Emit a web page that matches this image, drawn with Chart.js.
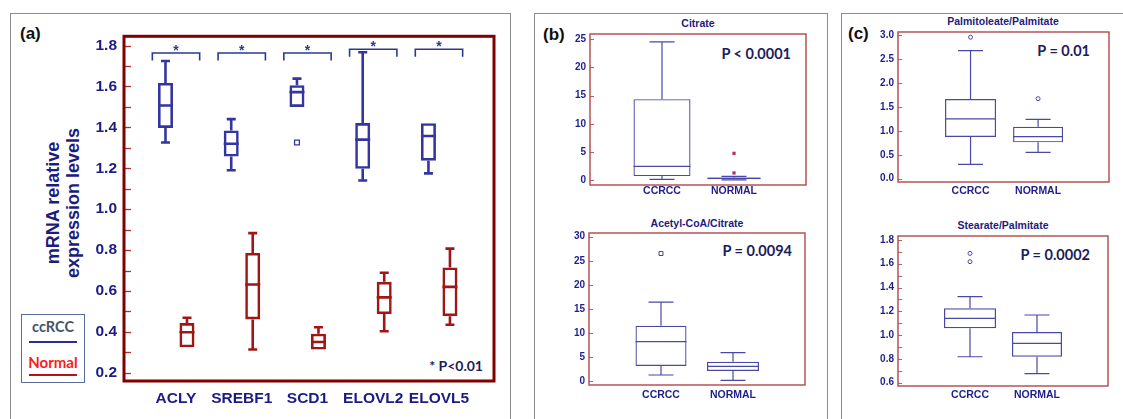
<!DOCTYPE html>
<html><head><meta charset="utf-8">
<script src="https://cdn.jsdelivr.net/npm/chart.js@4.4.0/dist/chart.umd.min.js"></script>
<style>
html,body{margin:0;padding:0;background:#fff;width:1123px;height:419px;overflow:hidden;position:relative;font-family:"Liberation Sans",Arial,sans-serif;}
.panel{position:absolute;border:1.5px solid #8c8c8c;box-sizing:border-box;}
canvas{position:absolute;}
.t{position:absolute;font-weight:bold;white-space:nowrap;line-height:1;}
.tag{font-size:17px;color:#111;}
.ttl{font-size:10.5px;color:#1c1c80;transform:translate(-50%,-50%);}
.pv{font-family:Lato,"Open Sans",sans-serif;font-size:14.5px;color:#1c1c5c;transform:translate(-100%,-50%);}
</style></head><body>
<div class="panel" style="left:10px;top:13px;width:501px;height:440px"></div>
<div class="panel" style="left:534px;top:13px;width:294px;height:440px"></div>
<div class="panel" style="left:841px;top:13px;width:300px;height:440px"></div>

<div class="t tag" style="left:20px;top:25px">(a)</div>
<div class="t tag" style="left:543px;top:26px">(b)</div>
<div class="t tag" style="left:848px;top:25px">(c)</div>

<div class="t" style="left:-36px;top:183px;width:200px;height:40px;transform:rotate(-90deg);text-align:center;font-size:18px;line-height:19.5px;color:#1c1c80">mRNA relative<br>expression levels</div>

<div style="position:absolute;left:21px;top:314px;width:64px;height:69px;border:1px solid #5a6a9a;box-sizing:border-box"></div>
<div class="t" style="left:53px;top:327px;transform:translate(-50%,-50%);font-family:Lato,sans-serif;font-size:14.5px;color:#44546a">ccRCC</div>
<div style="position:absolute;left:29px;top:341px;width:48px;height:2px;background:#2d2d9a"></div>
<div class="t" style="left:53px;top:362px;transform:translate(-50%,-50%);font-family:Lato,sans-serif;font-size:15px;color:#ff1a1a">Normal</div>
<div style="position:absolute;left:29px;top:374px;width:48px;height:2px;background:#b01515"></div>
<div class="t pv" style="left:483px;top:366px;font-size:14px">* P&lt;0.01</div>

<div class="t ttl" style="left:698px;top:23px">Citrate</div>
<div class="t ttl" style="left:697px;top:223px">Acetyl-CoA/Citrate</div>
<div class="t ttl" style="left:1003px;top:21px">Palmitoleate/Palmitate</div>
<div class="t ttl" style="left:1003px;top:225px">Stearate/Palmitate</div>
<div class="t pv" style="left:791px;top:54px">P &lt; 0.0001</div>
<div class="t pv" style="left:792px;top:251px">P = 0.0094</div>
<div class="t pv" style="left:1090px;top:51px">P = 0.01</div>
<div class="t pv" style="left:1090px;top:255px">P = 0.0002</div>

<canvas id="cA" width="450" height="399" style="left:60px;top:20px"></canvas>
<canvas id="cB1" width="270" height="180" style="left:550px;top:24px"></canvas>
<canvas id="cB2" width="270" height="197" style="left:549px;top:222px"></canvas>
<canvas id="cC1" width="268" height="180" style="left:855px;top:20px"></canvas>
<canvas id="cC2" width="268" height="197" style="left:855px;top:222px"></canvas>

<script>
// ---------- (a) mRNA expression ----------
const geneNames = ['ACLY', 'SREBF1', 'SCD1', 'ELOVL2', 'ELOVL5'];
const ccrccWhiskerLow  = [1.326, 1.190, 1.500, 1.140, 1.175];
const ccrccQ1          = [1.397, 1.257, 1.500, 1.197, 1.237];
const ccrccMedian      = [1.507, 1.320, 1.572, 1.340, 1.358];
const ccrccQ3          = [1.617, 1.385, 1.606, 1.421, 1.420];
const ccrccWhiskerHigh = [1.724, 1.440, 1.638, 1.767, 1.420];
const ccrccOutliers    = [[], [], [1.326], [], []];
const normalWhiskerLow  = [0.325, 0.314, 0.314, 0.403, 0.435];
const normalQ1          = [0.325, 0.461, 0.314, 0.487, 0.477];
const normalMedian      = [0.398, 0.632, 0.351, 0.569, 0.620];
const normalQ3          = [0.443, 0.786, 0.391, 0.645, 0.715];
const normalWhiskerHigh = [0.469, 0.883, 0.423, 0.689, 0.807];
const normalOutliers    = [[], [], [], [], []];
const significanceLevel = [1.763, 1.763, 1.763, 1.782, 1.782];
const geneTickValues = [0.2, 0.4, 0.6, 0.8, 1.0, 1.2, 1.4, 1.6, 1.8];
const geneTickLabels = ['0.2', '0.4', '0.6', '0.8', '1.0', '1.2', '1.4', '1.6', '1.8'];
const geneMinorTicks = [0.3, 0.5, 0.7, 0.9, 1.1, 1.3, 1.5, 1.7];

// ---------- (b), (c) metabolite ratios ----------
const groupNames = ['CCRCC', 'NORMAL'];
const citrateLow = [0.18, 0.08], citrateQ1 = [0.74, 0.20], citrateMedian = [2.48, 0.35], citrateQ3 = [14.36, 0.50], citrateHigh = [24.5, 0.70];
const citrateOutliers = [[], [4.77, 1.30]];
const citrateTickValues = [0, 5, 10, 15, 20, 25];
const citrateTickLabels = ['0', '5', '10', '15', '20', '25'];

const acetylLow = [1.25, 0.14], acetylQ1 = [3.12, 2.08], acetylMedian = [8.17, 3.05], acetylQ3 = [11.5, 4.0], acetylHigh = [16.4, 5.9];
const acetylOutliers = [[26.5], []];
const acetylTickValues = [0, 5, 10, 15, 20, 25, 30];
const acetylTickLabels = ['0', '5', '10', '15', '20', '25', '30'];

const palmLow = [0.30, 0.55], palmQ1 = [0.872, 0.76], palmMedian = [1.25, 0.879], palmQ3 = [1.667, 1.088], palmHigh = [2.68, 1.24];
const palmOutliers = [[2.96], [1.674]];
const palmTickValues = [0, 0.5, 1.0, 1.5, 2.0, 2.5, 3.0];
const palmTickLabels = ['0.0', '0.5', '1.0', '1.5', '2.0', '2.5', '3.0'];

const stearLow = [0.818, 0.676], stearQ1 = [1.057, 0.818], stearMedian = [1.141, 0.931], stearQ3 = [1.225, 1.026], stearHigh = [1.323, 1.169];
const stearOutliers = [[1.687, 1.617], []];
const stearTickValues = [0.6, 0.8, 1.0, 1.2, 1.4, 1.6, 1.8];
const stearTickLabels = ['0.6', '0.8', '1.0', '1.2', '1.4', '1.6', '1.8'];
const stearMinorTicks = [0.7, 0.9, 1.1, 1.3, 1.5, 1.7];

// ---------- plugins ----------
const framePlugin = {
  id: 'frame',
  afterDatasetsDraw(chart, args, o) {
    const ctx = chart.ctx, a = chart.chartArea, ys = chart.scales.y;
    ctx.save();
    ctx.strokeStyle = o.tickColor; ctx.lineWidth = o.tickWidth;
    ys.ticks.forEach(t => {
      const y = Math.round(ys.getPixelForValue(t.value)) + 0.5;
      ctx.beginPath(); ctx.moveTo(a.left, y); ctx.lineTo(a.left + o.tickLen, y); ctx.stroke();
    });
    ctx.strokeStyle = o.color; ctx.lineWidth = o.width;
    ctx.strokeRect(a.left, a.top, a.right - a.left, a.bottom - a.top);
    ctx.restore();
  }
};

const boxPlugin = {
  id: 'boxWhisker',
  afterDatasetsDraw(chart) {
    const ctx = chart.ctx, ys = chart.scales.y;
    chart.data.datasets.forEach((ds, di) => {
      if (!ds.median) return;
      const meta = chart.getDatasetMeta(di);
      ctx.save();
      ctx.strokeStyle = ds.borderColor; ctx.lineWidth = ds.lineW; ctx.lineCap = 'butt';
      meta.data.forEach((el, i) => {
        const x = el.x, hw = el.width / 2, cw = ds.capW / 2;
        const q1 = ds.data[i].y[0], q3 = ds.data[i].y[1];
        ctx.beginPath();
        const ym = ys.getPixelForValue(ds.median[i]);
        ctx.moveTo(x - hw, ym); ctx.lineTo(x + hw, ym);
        if (ds.whiskerHigh[i] > q3) {
          const yq = ys.getPixelForValue(q3), yh = ys.getPixelForValue(ds.whiskerHigh[i]);
          ctx.moveTo(x, yq); ctx.lineTo(x, yh); ctx.moveTo(x - cw, yh); ctx.lineTo(x + cw, yh);
        }
        if (ds.whiskerLow[i] < q1) {
          const yq = ys.getPixelForValue(q1), yl = ys.getPixelForValue(ds.whiskerLow[i]);
          ctx.moveTo(x, yq); ctx.lineTo(x, yl); ctx.moveTo(x - cw, yl); ctx.lineTo(x + cw, yl);
        }
        ctx.stroke();
      });
      ctx.restore();
    });
  }
};

const sigPlugin = {
  id: 'sig',
  afterDatasetsDraw(chart, args, o) {
    if (!o || !o.levels) return;
    const ctx = chart.ctx, xs = chart.scales.x, ys = chart.scales.y;
    ctx.save();
    ctx.strokeStyle = o.color; ctx.fillStyle = o.color; ctx.lineWidth = 1.6;
    ctx.font = 'bold 14px "Liberation Sans", Arial';
    ctx.textAlign = 'center'; ctx.textBaseline = 'alphabetic';
    o.levels.forEach((v, i) => {
      const x0 = xs.getPixelForValue(i + 1 - o.half), x1 = xs.getPixelForValue(i + 1 + o.half);
      const y = ys.getPixelForValue(v);
      ctx.beginPath();
      ctx.moveTo(x0, y + o.drop); ctx.lineTo(x0, y); ctx.lineTo(x1, y); ctx.lineTo(x1, y + o.drop);
      ctx.stroke();
      ctx.fillText('*', (x0 + x1) / 2, y + 2);
    });
    ctx.restore();
  }
};

// ---------- helpers ----------
function boxDataset(xs, low, q1, med, q3, high, st) {
  return {
    type: 'bar', grouped: false, order: 2,
    data: xs.map((x, i) => ({ x: x, y: [q1[i], q3[i]] })),
    whiskerLow: low, median: med, whiskerHigh: high,
    backgroundColor: 'rgba(0,0,0,0)', borderColor: st.color, borderWidth: st.lw,
    borderSkipped: false, inflateAmount: 0,
    barPercentage: 1, categoryPercentage: 1, maxBarThickness: st.width,
    lineW: st.lw, capW: st.cap
  };
}
function outlierDataset(xs, lists, st) {
  const pts = [];
  lists.forEach((vals, i) => vals.forEach(v => pts.push({ x: xs[i], y: v })));
  return {
    type: 'scatter', order: 1, data: pts,
    pointStyle: st.shape, pointRadius: st.r, pointBorderWidth: st.bw,
    pointBorderColor: st.color, pointBackgroundColor: st.fill
  };
}
function makeTicks(vals, labels, minors) {
  const t = vals.map((v, i) => ({ value: v, lab: labels[i] }));
  (minors || []).forEach(v => t.push({ value: v, lab: '' }));
  t.sort((a, b) => a.value - b.value);
  return t;
}
function buildChart(id, cfg) {
  return new Chart(document.getElementById(id), {
    type: 'bar',
    data: { datasets: cfg.datasets },
    options: {
      responsive: false, animation: false, devicePixelRatio: 1,
      layout: { padding: cfg.pad },
      plugins: { legend: { display: false }, tooltip: { enabled: false }, frame: cfg.frame, sig: cfg.sig || {} },
      scales: {
        x: {
          type: 'linear', min: cfg.xMin, max: cfg.xMax, offset: false, bounds: 'data',
          grid: { display: false, drawTicks: false }, border: { display: false },
          afterBuildTicks: s => { s.ticks = cfg.cats.map((c, i) => ({ value: i + 1, lab: c })); },
          afterFit: s => { s.height = cfg.xH; },
          ticks: { autoSkip: false, maxRotation: 0, minRotation: 0, padding: cfg.xPad, color: cfg.textColor,
                   font: { family: '"Liberation Sans", Arial', size: cfg.xFont, weight: 'bold' },
                   callback: (v, i, t) => t[i].lab }
        },
        y: {
          type: 'linear', min: cfg.yMin, max: cfg.yMax, bounds: 'data',
          grid: { display: false, drawTicks: false }, border: { display: false },
          afterBuildTicks: s => { s.ticks = makeTicks(cfg.yVals, cfg.yLabels, cfg.yMinor); },
          afterFit: s => { s.width = cfg.yW; },
          ticks: { autoSkip: false, padding: cfg.yPad, color: cfg.textColor,
                   font: { family: '"Liberation Sans", Arial', size: cfg.yFont, weight: 'bold' },
                   callback: (v, i, t) => t[i].lab }
        }
      }
    },
    plugins: [framePlugin, boxPlugin, sigPlugin]
  });
}

// ---------- (a) ----------
const BLUE = '#3535a0', RED = '#a01616', NAVY = '#1b1b87';
const xCcrcc = geneNames.map((g, i) => i + 1 - 0.16);
const xNormal = geneNames.map((g, i) => i + 1 + 0.167);
buildChart('cA', {
  cats: geneNames,
  datasets: [
    boxDataset(xCcrcc, ccrccWhiskerLow, ccrccQ1, ccrccMedian, ccrccQ3, ccrccWhiskerHigh, { color: BLUE, lw: 2.6, width: 15, cap: 9 }),
    boxDataset(xNormal, normalWhiskerLow, normalQ1, normalMedian, normalQ3, normalWhiskerHigh, { color: RED, lw: 2.6, width: 15, cap: 9 }),
    outlierDataset(xCcrcc, ccrccOutliers, { shape: 'rect', r: 3.4, bw: 1.3, color: BLUE, fill: '#fff' }),
    outlierDataset(xNormal, normalOutliers, { shape: 'rect', r: 3.4, bw: 1.3, color: RED, fill: '#fff' })
  ],
  pad: { top: 14, right: 16, left: 0, bottom: 0 }, yW: 64, xH: 38,
  xMin: 0.209, xMax: 5.837, yMin: 0.160, yMax: 1.845,
  yVals: geneTickValues, yLabels: geneTickLabels, yMinor: geneMinorTicks,
  xPad: 8, yPad: 7, xFont: 15.5, yFont: 15.5, textColor: NAVY,
  frame: { color: '#800000', width: 3, tickColor: '#b03030', tickWidth: 1.3, tickLen: 7 },
  sig: { levels: significanceLevel, half: 0.36, drop: 7.5, color: '#2a3a90' }
});

// ---------- (b), (c) ----------
const LB = '#4848a8', FR = '#b04848', TN = '#1e1e8c';
const xGroups = groupNames.map((g, i) => i + 1);
function pairChart(id, low, q1, med, q3, high, outs, widths, outSt, ax) {
  const ds = groupNames.map((g, gi) => boxDataset([xGroups[gi]], [low[gi]], [q1[gi]], [med[gi]], [q3[gi]], [high[gi]],
    { color: LB, lw: 1.2, width: widths[gi], cap: 25 }));
  ds.push(outlierDataset(xGroups, outs, outSt));
  buildChart(id, Object.assign({
    cats: groupNames, datasets: ds, xFont: 10.5, yFont: 10, textColor: TN,
    frame: { color: FR, width: 1.4, tickColor: '#c06060', tickWidth: 1, tickLen: 4 }
  }, ax));
}
pairChart('cB1', citrateLow, citrateQ1, citrateMedian, citrateQ3, citrateHigh, citrateOutliers, [57, 53],
  { shape: 'rect', r: 2.3, bw: 0, color: '#b0306e', fill: '#b0306e' },
  { pad: { top: 10, right: 14, left: 0, bottom: 0 }, yW: 40, xH: 19, xMin: 0, xMax: 3, yMin: -0.83, yMax: 25.88,
    yVals: citrateTickValues, yLabels: citrateTickLabels, xPad: 0, yPad: 4 });
pairChart('cB2', acetylLow, acetylQ1, acetylMedian, acetylQ3, acetylHigh, acetylOutliers, [51, 52],
  { shape: 'rect', r: 2.8, bw: 1, color: '#4040a0', fill: '#fff' },
  { pad: { top: 11, right: 14, left: 0, bottom: 0 }, yW: 40, xH: 34, xMin: 0, xMax: 3, yMin: -0.83, yMax: 30.77,
    yVals: acetylTickValues, yLabels: acetylTickLabels, xPad: 4, yPad: 4 });
pairChart('cC1', palmLow, palmQ1, palmMedian, palmQ3, palmHigh, palmOutliers, [51, 50],
  { shape: 'circle', r: 2, bw: 1, color: '#4848a8', fill: '#fff' },
  { pad: { top: 12, right: 14, left: 0, bottom: 0 }, yW: 43, xH: 18, xMin: -0.074, xMax: 3.05, yMin: -0.069, yMax: 3.069,
    yVals: palmTickValues, yLabels: palmTickLabels, xPad: 3, yPad: 4 });
pairChart('cC2', stearLow, stearQ1, stearMedian, stearQ3, stearHigh, stearOutliers, [52, 50],
  { shape: 'circle', r: 2, bw: 1, color: '#4848a8', fill: '#fff' },
  { pad: { top: 14, right: 15, left: 0, bottom: 0 }, yW: 43, xH: 33, xMin: -0.075, xMax: 3.06, yMin: 0.572, yMax: 1.833,
    yVals: stearTickValues, yLabels: stearTickLabels, yMinor: stearMinorTicks, xPad: 3, yPad: 4 });
</script>
</body></html>
